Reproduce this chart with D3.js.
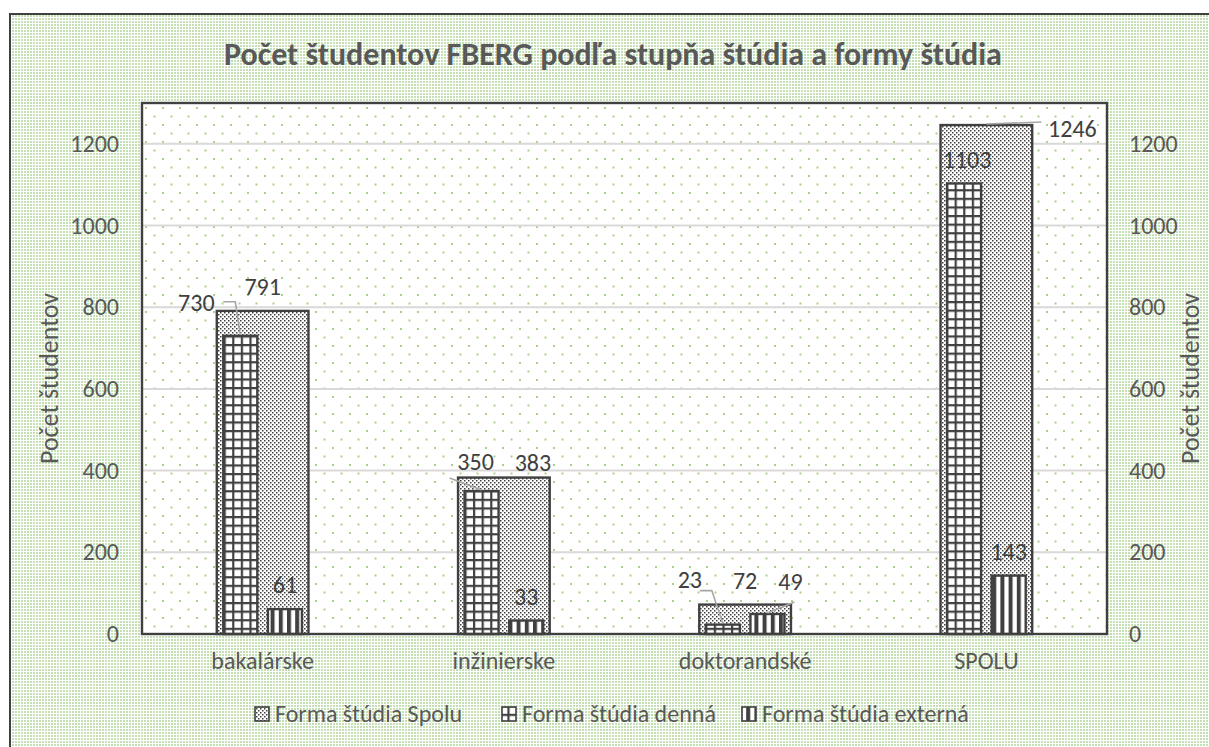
<!DOCTYPE html>
<html lang="sk">
<head>
    <meta charset="UTF-8">
    <title>Počet študentov FBERG</title>
    <script src="https://d3js.org/d3.v7.min.js"></script>
    <style>
        body { margin: 0; background: #fff; }
        text { font-family: Calibri, Carlito, Lato, sans-serif; }
    </style>
</head>
<body>
<svg id="main" width="1209" height="747"></svg>
<script>
    const categories = ['bakalárske', 'inžinierske', 'doktorandské', 'SPOLU'];
    const spolu = [791, 383, 72, 1246];
    const denna = [730, 350, 23, 1103];
    const externa = [61, 33, 49, 143];
    const yTicks = [0, 200, 400, 600, 800, 1000, 1200];
    const seriesNames = ['Forma štúdia Spolu', 'Forma štúdia denná', 'Forma štúdia externá'];
    const titleText = 'Počet študentov FBERG podľa stupňa štúdia a formy štúdia';
    const axisTitle = 'Počet študentov';

    const plot = {left: 142, right: 1107, top: 103, bottom: 634};
    const dark = '#404040';
    const grey = '#595959';

    let svg = d3.select('svg#main');
    let defs = svg.append('defs');

    // chart area background: dense light green dots
    let pBg = defs.append('pattern').attr('id', 'bgDots')
        .attr('patternUnits', 'userSpaceOnUse').attr('width', 3).attr('height', 3);
    pBg.append('rect').attr('width', 3).attr('height', 3).attr('fill', '#ffffff');
    pBg.append('rect').attr('width', 2).attr('height', 2).attr('fill', '#c5e0b4');

    // plot area: sparse staggered dots
    let pPlot = defs.append('pattern').attr('id', 'plotDots')
        .attr('patternUnits', 'userSpaceOnUse').attr('width', 17).attr('height', 17)
        .attr('x', plot.left + 3).attr('y', plot.top + 4);
    pPlot.append('rect').attr('width', 17).attr('height', 17).attr('fill', '#ffffff');
    pPlot.append('rect').attr('width', 2).attr('height', 2).attr('fill', '#a9d18e');
    pPlot.append('rect').attr('x', 8.5).attr('y', 8.5).attr('width', 2).attr('height', 2).attr('fill', '#a9d18e');

    // series patterns
    let pSpolu = defs.append('pattern').attr('id', 'patSpolu')
        .attr('patternUnits', 'userSpaceOnUse').attr('width', 4).attr('height', 4);
    pSpolu.append('rect').attr('width', 4).attr('height', 4).attr('fill', '#ffffff');
    pSpolu.append('rect').attr('width', 1.5).attr('height', 1.5).attr('fill', dark);
    pSpolu.append('rect').attr('x', 2).attr('y', 2).attr('width', 1.5).attr('height', 1.5).attr('fill', dark);

    let pDenna = defs.append('pattern').attr('id', 'patDenna')
        .attr('patternUnits', 'userSpaceOnUse').attr('width', 8.6).attr('height', 8.6);
    pDenna.append('rect').attr('width', 8.6).attr('height', 8.6).attr('fill', '#ffffff');
    pDenna.append('rect').attr('width', 2.2).attr('height', 8.6).attr('fill', dark);
    pDenna.append('rect').attr('width', 8.6).attr('height', 2.2).attr('fill', dark);

    let pExt = defs.append('pattern').attr('id', 'patExt')
        .attr('patternUnits', 'userSpaceOnUse').attr('width', 8.2).attr('height', 8);
    pExt.append('rect').attr('width', 8.2).attr('height', 8).attr('fill', '#ffffff');
    pExt.append('rect').attr('width', 4).attr('height', 8).attr('fill', dark);

    // chart area
    svg.append('rect')
        .attr('x', 10).attr('y', 14).attr('width', 1220).attr('height', 760)
        .attr('fill', 'url(#bgDots)').attr('stroke', dark).attr('stroke-width', 2);

    svg.append('text')
        .attr('x', 613).attr('y', 65)
        .attr('text-anchor', 'middle')
        .attr('font-size', 32).attr('font-weight', 'bold').attr('fill', grey)
        .text(titleText);

    svg.append('rect')
        .attr('x', plot.left).attr('y', plot.top)
        .attr('width', plot.right - plot.left).attr('height', plot.bottom - plot.top)
        .attr('fill', 'url(#plotDots)');

    let x = d3.scaleBand().domain(categories).range([plot.left, plot.right]);
    let y = d3.scaleLinear().domain([0, 1300]).range([plot.bottom, plot.top]);
    let bw = x.bandwidth();

    // gridlines
    svg.append('g').selectAll('line')
        .data(yTicks.filter(t => t > 0))
        .enter().append('line')
        .attr('x1', plot.left).attr('x2', plot.right)
        .attr('y1', d => y(d)).attr('y2', d => y(d))
        .attr('stroke', '#d9d9d9').attr('stroke-width', 2);

    // axes
    let leftAxis = svg.append('g')
        .attr('transform', `translate(${plot.left},0)`)
        .call(d3.axisLeft(y).tickValues(yTicks).tickFormat(d3.format('d')).tickSize(0).tickPadding(23));
    let rightAxis = svg.append('g')
        .attr('transform', `translate(${plot.right},0)`)
        .call(d3.axisRight(y).tickValues(yTicks).tickFormat(d3.format('d')).tickSize(0).tickPadding(22));
    let bottomAxis = svg.append('g')
        .attr('transform', `translate(0,${plot.bottom})`)
        .call(d3.axisBottom(x).tickSize(0).tickPadding(18));
    [leftAxis, rightAxis, bottomAxis].forEach(g => {
        g.select('.domain').remove();
        g.selectAll('text').attr('font-size', 24).attr('fill', grey)
            .style('font-family', 'Calibri, Carlito, Lato, sans-serif');
    });

    // bars
    const spoluW = bw * 0.38;
    const smallW = bw * 0.141;
    const smallOff = bw * 0.0925;
    const cx = c => x(c) + bw / 2;

    const series = [
        {name: seriesNames[0], values: spolu, fill: 'url(#patSpolu)', w: spoluW, off: 0},
        {name: seriesNames[1], values: denna, fill: 'url(#patDenna)', w: smallW, off: -smallOff},
        {name: seriesNames[2], values: externa, fill: 'url(#patExt)', w: smallW, off: smallOff}
    ];

    series.forEach(s => {
        svg.append('g').selectAll('rect')
            .data(s.values)
            .enter().append('rect')
            .attr('x', (d, i) => cx(categories[i]) + s.off - s.w / 2)
            .attr('y', d => y(d))
            .attr('width', s.w)
            .attr('height', d => y(0) - y(d))
            .attr('fill', s.fill)
            .attr('stroke', dark).attr('stroke-width', 2.4);
    });

    // plot border on top of bars
    svg.append('rect')
        .attr('x', plot.left).attr('y', plot.top)
        .attr('width', plot.right - plot.left).attr('height', plot.bottom - plot.top)
        .attr('fill', 'none').attr('stroke', dark).attr('stroke-width', 2.4);

    // data labels, some moved by hand like in the source
    // key: series index + '-' + category index -> [dx, dy, leader points relative to label]
    const moved = {
        '1-0': [-44, -9, [[27, -1], [39, -1]]],
        '1-1': [-6, -5, [[-26, 16]]],
        '0-1': [29, 9, null],
        '1-2': [-33, -21, [[10, 11], [22, 11]]],
        '2-2': [23, -8, [[4, 20]]],
        '0-3': [86, 28, [[-31, -7]]],
        '1-3': [3, 0, null]
    };

    let labels = svg.append('g');
    series.forEach((s, si) => {
        s.values.forEach((v, ci) => {
            let bx = cx(categories[ci]) + s.off;
            let by = y(v);
            let lx = bx, ly = by - 24;
            let m = moved[si + '-' + ci];
            if (m) {
                lx += m[0];
                ly += m[1];
                if (m[2]) {
                    let pts = m[2].map(p => [lx + p[0], ly + p[1]]);
                    pts.push([bx, by - 1]);
                    labels.append('path')
                        .attr('d', d3.line()(pts))
                        .attr('fill', 'none')
                        .attr('stroke', '#a6a6a6').attr('stroke-width', 1.6);
                }
            }
            labels.append('text')
                .attr('x', lx).attr('y', ly).attr('dy', '0.35em')
                .attr('text-anchor', 'middle')
                .attr('font-size', 24).attr('fill', dark)
                .text(v);
        });
    });

    // axis titles
    svg.append('text')
        .attr('transform', `translate(49,${(plot.top + plot.bottom) / 2 + 10}) rotate(-90)`)
        .attr('text-anchor', 'middle').attr('dy', '0.35em')
        .attr('font-size', 26).attr('fill', grey)
        .text(axisTitle);
    svg.append('text')
        .attr('transform', `translate(1190,${(plot.top + plot.bottom) / 2 + 10}) rotate(-90)`)
        .attr('text-anchor', 'middle').attr('dy', '0.35em')
        .attr('font-size', 26).attr('fill', grey)
        .text(axisTitle);

    // legend
    const legendX = [255, 502, 742];
    let legend = svg.append('g');
    series.forEach((s, i) => {
        legend.append('rect')
            .attr('x', legendX[i]).attr('y', 707)
            .attr('width', 14).attr('height', 14)
            .attr('fill', s.fill).attr('stroke', dark).attr('stroke-width', 1.6);
        legend.append('text')
            .attr('x', legendX[i] + 20).attr('y', 722)
            .attr('font-size', 24).attr('fill', grey)
            .text(s.name);
    });
</script>
</body>
</html>
